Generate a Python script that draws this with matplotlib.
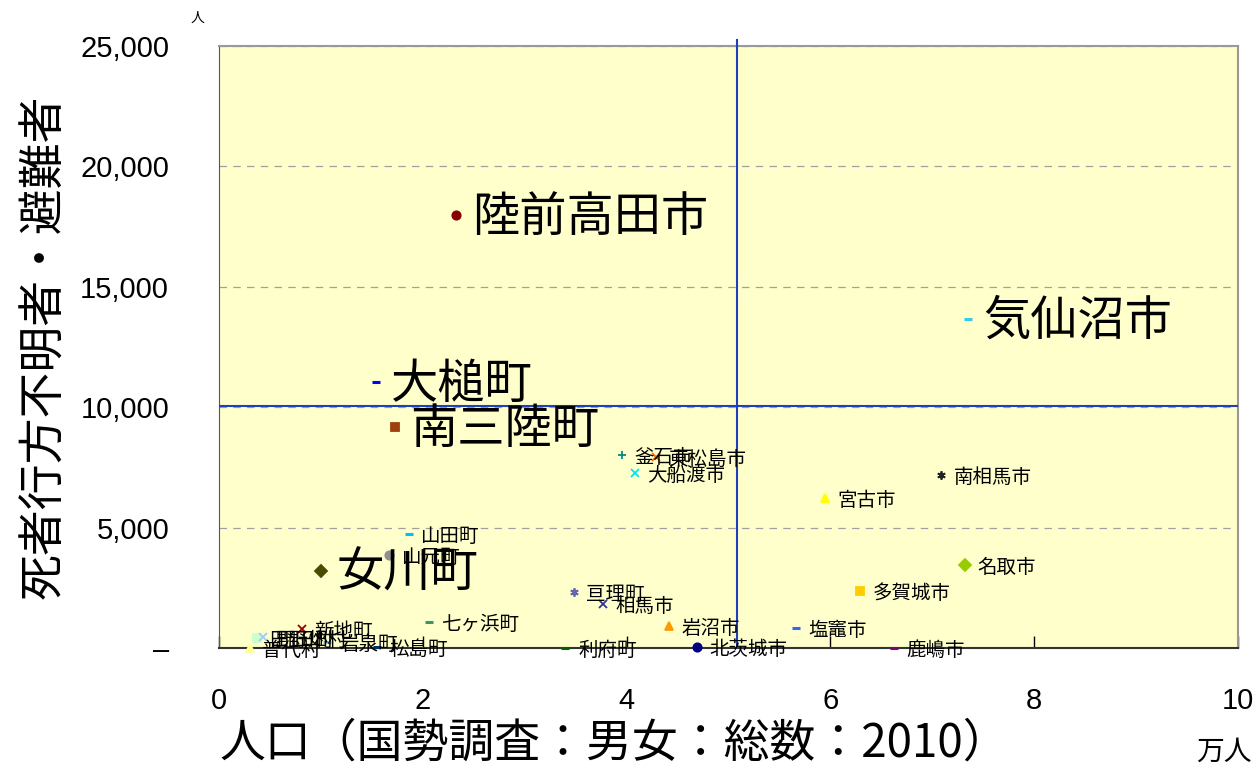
import matplotlib
matplotlib.use("Agg")
import matplotlib.pyplot as plt
from matplotlib.ticker import FuncFormatter, MultipleLocator

plt.rcParams['font.family'] = ['Noto Sans CJK JP', 'DejaVu Sans']

# 市町村別：人口（万人）と死者行方不明者・避難者（人）
names = ["陸前高田市", "気仙沼市", "大槌町", "南三陸町", "女川町",
         "山田町", "山元町", "釜石市", "東松島市", "大船渡市",
         "南相馬市", "宮古市", "名取市", "多賀城市", "塩竈市",
         "鹿嶋市", "亘理町", "相馬市", "岩沼市", "北茨城市",
         "利府町", "七ヶ浜町", "新地町", "普代村", "田野畑村",
         "野田村", "岩泉町", "松島町"]
population = [2.33, 7.35, 1.54, 1.73, 1.00,
              1.86, 1.67, 3.95, 4.29, 4.08,
              7.09, 5.95, 7.32, 6.29, 5.66,
              6.62, 3.48, 3.77, 4.42, 4.69,
              3.40, 2.06, 0.81, 0.30, 0.37,
              0.43, 1.06, 1.55]
victims = [18000, 13660, 11050, 9180, 3200,
           4730, 3860, 8020, 7930, 7270,
           7190, 6230, 3450, 2370, 830,
           0, 2330, 1830, 910, 40,
           0, 1080, 790, 0, 420,
           440, 250, 40]
big_labels = ["陸前高田市", "気仙沼市", "大槌町", "南三陸町", "女川町"]

ASTER = (6, 2, 0)
markers = ['o', '_', '_', 's', 'D',
           '_', 'o', '+', 'x', 'x',
           ASTER, '^', 'D', 's', '_',
           '_', ASTER, 'x', '^', 'o',
           '_', '_', 'x', '^', 's',
           'x', '_', '_']
colors = ['#8B0000', '#33CCEE', '#0000FF', '#A0400A', '#4B4B00',
          '#00BFFF', '#909090', '#008B8B', '#FF6600', '#00E5EE',
          '#222222', '#FFFF00', '#99CC00', '#FFCC00', '#3366FF',
          '#800080', '#6666AA', '#333399', '#FF9900', '#000080',
          '#006400', '#339966', '#990000', '#FFFF99', '#CCFFCC',
          '#99CCFF', '#66CCFF', '#003366']

mean_pop = 5.08
mean_victims = 10050

fig = plt.figure(figsize=(12.59, 7.69), dpi=100)
ax = fig.add_axes([0.174, 0.1573, 0.8093, 0.7829])
ax.set_facecolor('#FFFFCC')

for name, x, y, m, c in zip(names, population, victims, markers, colors):
    mew = 2.2 if m == '_' else 1.3
    ax.plot(x, y, marker=m, color=c, markersize=6, markeredgewidth=mew,
            linestyle='none', clip_on=False, zorder=4)
    if name in big_labels:
        ax.annotate(name, (x, y), xytext=(11, -2), textcoords='offset points',
                    fontsize=34, va='center', ha='left', zorder=5)
    else:
        ax.annotate(name, (x, y), xytext=(9, -2), textcoords='offset points',
                    fontsize=14, va='center', ha='left', zorder=5)

# average lines
ax.axvline(mean_pop, color='#1F3FBF', linewidth=1.5, zorder=3, ymax=1.01, clip_on=False)
ax.axhline(mean_victims, color='#1F3FBF', linewidth=1.5, zorder=3)

ax.set_xlim(0, 10)
ax.set_ylim(0, 25000)
ax.xaxis.set_major_locator(MultipleLocator(2))
ax.yaxis.set_major_locator(MultipleLocator(5000))
ax.yaxis.set_major_formatter(FuncFormatter(lambda v, p: "–" if v == 0 else f"{int(v):,}"))
ax.grid(axis='y', color='#A0A0A0', linestyle=(0, (6, 5)), linewidth=0.9)
ax.set_axisbelow(True)

ax.tick_params(axis='x', direction='in', length=9, width=1, pad=28, labelsize=21)
ax.tick_params(axis='y', length=0, pad=36, labelsize=21)
for lbl in ax.get_xticklabels() + ax.get_yticklabels():
    lbl.set_fontfamily(['Liberation Sans', 'DejaVu Sans'])

for side in ['top', 'right']:
    ax.spines[side].set_color('#999999')
    ax.spines[side].set_linewidth(1.5)
ax.spines['left'].set_color('#555555')
ax.spines['bottom'].set_color('#333333')
ax.spines['bottom'].set_linewidth(1.5)

ax.set_xlabel("人口（国勢調査：男女：総数：2010）", fontsize=33)
ax.xaxis.set_label_coords(0.0, -0.118)
ax.xaxis.label.set_ha('left')
ax.set_ylabel("死者行方不明者・避難者", fontsize=33)
ax.yaxis.set_label_coords(-0.148, 0.5)

fig.text(0.994, 0.022, "万人", fontsize=20, ha='right', va='center')
fig.text(0.157, 0.977, "人", fontsize=10, ha='center', va='center')

fig.savefig("out.png", dpi=100)
